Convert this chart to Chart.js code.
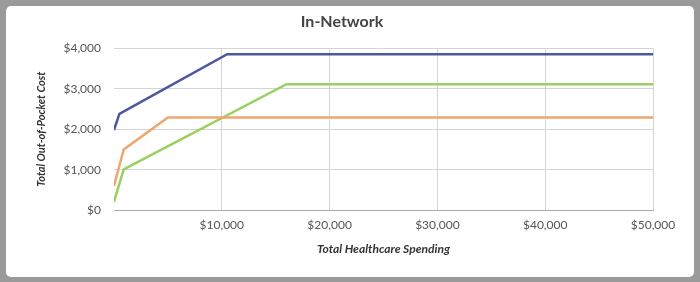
<!DOCTYPE html>
<html>
<head>
<meta charset="utf-8">
<script src="https://cdn.jsdelivr.net/npm/chart.js@4/dist/chart.umd.min.js"></script>
<style>
  html, body { margin: 0; padding: 0; background: #9a9a9a; width: 700px; height: 282px; overflow: hidden; }
  #card { position: absolute; left: 6px; top: 6px; width: 688px; height: 271px; background: #fff; border-radius: 5px; }
</style>
</head>
<body>
<div id="card"><canvas id="oop-chart" width="688" height="271"></canvas></div>
<script>
// spending points ($) and out-of-pocket cost ($) for each plan
const planASpend = [0, 500, 10500, 50000];
const planACost = [1980, 2380, 3850, 3850];
const planBSpend = [0, 900, 5000, 50000];
const planBCost = [600, 1500, 2290, 2290];
const planCSpend = [0, 900, 16000, 50000];
const planCCost = [210, 1010, 3110, 3110];

const toPoints = (xs, ys) => xs.map((x, i) => ({ x: x, y: ys[i] }));
const money = v => '$' + Number(v).toLocaleString('en-US');

const ctx = document.getElementById('oop-chart');
const OopChart = new Chart(ctx, {
    type: 'line',
    data: {
        datasets: [
            { data: toPoints(planASpend, planACost), borderColor: '#4d56a0' },
            { data: toPoints(planBSpend, planBCost), borderColor: '#efa66e' },
            { data: toPoints(planCSpend, planCCost), borderColor: '#98d15f' }
        ]
    },
    options: {
        responsive: false,
        animation: false,
        elements: {
            point: { radius: 0 },
            line: { borderWidth: 2.5, tension: 0 }
        },
        layout: { padding: { left: 25, right: 41, top: 0, bottom: 17 } },
        plugins: {
            legend: { display: false },
            tooltip: { enabled: false },
            title: {
                display: true,
                text: 'In-Network',
                color: '#444',
                font: { family: 'Lato', size: 16, weight: 'bold' },
                padding: { top: 6, bottom: 17 }
            }
        },
        scales: {
            x: {
                type: 'linear',
                min: 0,
                max: 50000,
                ticks: {
                    stepSize: 10000,
                    color: '#555',
                    padding: 8,
                    font: { family: 'Lato', size: 12 },
                    callback: v => v === 0 ? '' : money(v)
                },
                grid: {
                    color: c => c.tick && c.tick.value === 0 ? 'rgba(0,0,0,0)' : '#d4d4d4',
                    drawTicks: false
                },
                border: { color: '#aaa' },
                title: {
                    display: true,
                    text: 'Total Healthcare Spending',
                    color: '#333',
                    font: { family: 'Lato', size: 12, weight: 'bold', style: 'italic' },
                    padding: { top: 1 }
                }
            },
            y: {
                min: 0,
                max: 4000,
                afterFit: s => { s.width = 83; },
                ticks: {
                    stepSize: 1000,
                    color: '#555',
                    padding: 13,
                    font: { family: 'Lato', size: 12 },
                    callback: v => money(v)
                },
                grid: { color: '#d4d4d4', drawTicks: false },
                border: { display: false },
                title: {
                    display: true,
                    text: 'Total Out-of-Pocket Cost',
                    color: '#333',
                    font: { family: 'Lato', size: 11, weight: 'bold', style: 'italic' },
                    padding: { bottom: 18 }
                }
            }
        }
    }
});
</script>
</body>
</html>
